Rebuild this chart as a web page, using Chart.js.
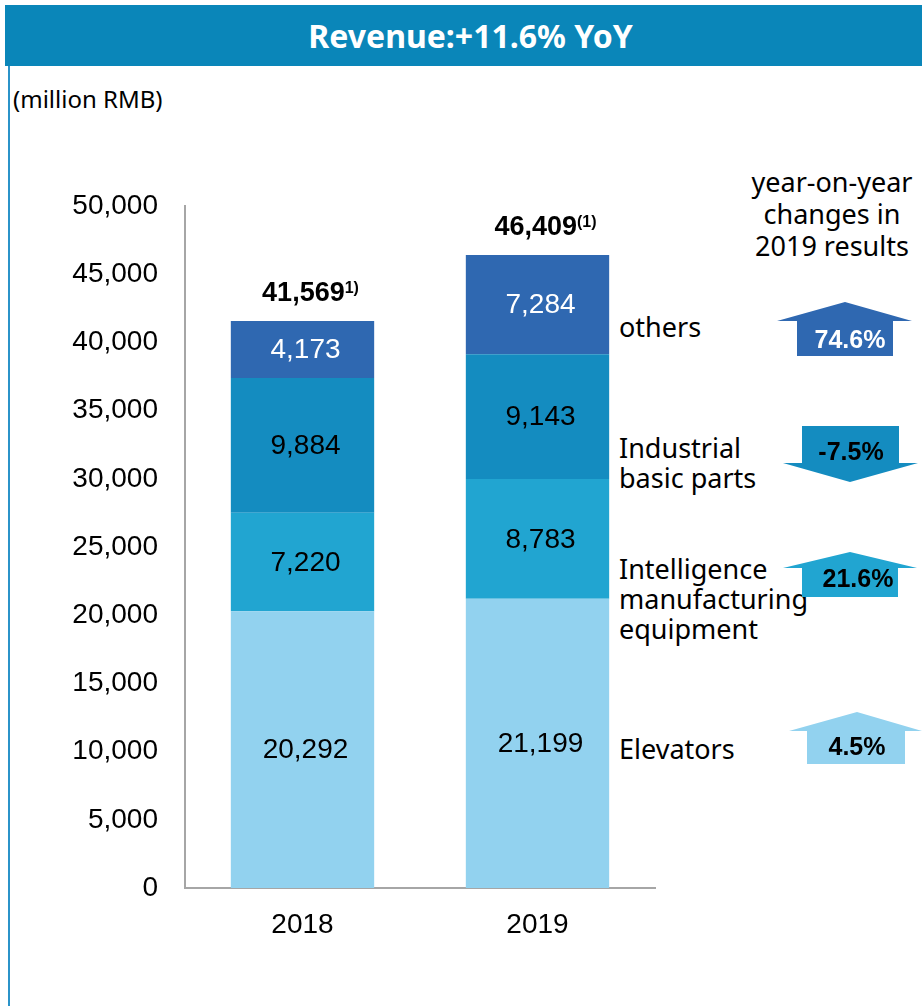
<!DOCTYPE html>
<html>
<head>
<meta charset="utf-8">
<script src="https://cdn.jsdelivr.net/npm/chart.js@4.4.1/dist/chart.umd.min.js"></script>
<style>
  html, body { margin:0; padding:0; background:#fff; }
  #wrap { position:relative; width:922px; height:1006px; overflow:hidden; font-family:"Noto Sans", sans-serif; color:#000; }
  #chart { position:absolute; left:0; top:0; width:922px; height:1006px; }
  .banner { position:absolute; left:5px; top:5px; width:917px; height:61px; box-sizing:border-box; padding-left:14px;
            background:#0a86b9; color:#fff; font-weight:bold; font-size:32px; line-height:61px; text-align:center; }
  .edge { position:absolute; left:8px; top:66px; width:2px; height:940px; background:#2b93c9; }
  .unit { position:absolute; left:13px; top:84px; font-size:24px; line-height:30px; }
  .head { position:absolute; left:742px; top:166px; width:180px; text-align:center; font-size:27px; line-height:32px; }
  .cat { position:absolute; left:619px; font-size:27px; line-height:30px; }
</style>
</head>
<body>
<div id="wrap">
  <div class="banner">Revenue:+11.6% YoY</div>
  <div class="edge"></div>
  <div class="unit">(million RMB)</div>
  <div class="head">year-on-year<br>changes in<br>2019 results</div>
  <div class="cat" style="top:312px">others</div>
  <div class="cat" style="top:433px">Industrial<br>basic parts</div>
  <div class="cat" style="top:554px">Intelligence<br>manufacturing<br>equipment</div>
  <div class="cat" style="top:734px">Elevators</div>
  <canvas id="chart" width="922" height="1006"></canvas>
</div>
<script>
// data, bottom segment first
const categories   = ['2018', '2019'];
const elevators    = [20292, 21199];
const intelligence = [7220, 8783];
const industrial   = [9884, 9143];
const others       = [4173, 7284];
const totals       = [41569, 46409];
const totalNotes   = ['1)', '(1)'];
const yoyChange    = ['4.5%', '21.6%', '-7.5%', '74.6%'];

const colors     = ['#92d2ef', '#21a5d1', '#148cc0', '#2f68b1'];
const textColors = ['#000', '#000', '#000', '#fff'];

// arrow shapes for the yoy column (same order as datasets)
const arrows = [
  { apexX:857, apexY:712, headY:731, headL:789, headR:922, shaftL:807, shaftR:905, endY:764, tx:857, ty:755 },
  { apexX:850, apexY:552, headY:568, headL:783, headR:917, shaftL:802, shaftR:898, endY:597, tx:858, ty:587 },
  { apexX:850, apexY:482, headY:463, headL:783, headR:918, shaftL:802, shaftR:899, endY:426, tx:851, ty:460 },
  { apexX:845, apexY:302, headY:321, headL:777, headR:912, shaftL:797, shaftR:893, endY:356, tx:850, ty:348 }
];

const fmt = v => v.toLocaleString('en-US');

const barLabels = {
  id:'barLabels',
  afterDatasetsDraw(chart){
    const { ctx } = chart;
    ctx.save();
    ctx.textAlign = 'center';
    ctx.textBaseline = 'middle';
    ctx.font = '28px "Liberation Sans", Arial, sans-serif';
    chart.data.datasets.forEach((ds, i) => {
      chart.getDatasetMeta(i).data.forEach((bar, j) => {
        const { x, y, base } = bar.getProps(['x', 'y', 'base'], true);
        ctx.fillStyle = textColors[i];
        ctx.fillText(fmt(ds.data[j]), x + 3, (y + base) / 2 + 1);
      });
    });

    // totals with footnote marks
    const top = chart.getDatasetMeta(chart.data.datasets.length - 1).data;
    ctx.textAlign = 'left';
    ctx.textBaseline = 'alphabetic';
    top.forEach((bar, j) => {
      const { x, y } = bar.getProps(['x', 'y'], true);
      const main = fmt(totals[j]);
      ctx.font = 'bold 27px "Liberation Sans", Arial, sans-serif';
      const w1 = ctx.measureText(main).width;
      ctx.font = 'bold 16px "Liberation Sans", Arial, sans-serif';
      const w2 = ctx.measureText(totalNotes[j]).width;
      const x0 = x + 8 - (w1 + w2) / 2;
      const by = y - 20;
      ctx.fillStyle = '#000';
      ctx.font = 'bold 27px "Liberation Sans", Arial, sans-serif';
      ctx.fillText(main, x0, by);
      ctx.font = 'bold 16px "Liberation Sans", Arial, sans-serif';
      ctx.fillText(totalNotes[j], x0 + w1, by - 8);
    });

    // yoy arrows
    ctx.textAlign = 'center';
    ctx.font = 'bold 25px "Liberation Sans", Arial, sans-serif';
    arrows.forEach((a, i) => {
      ctx.fillStyle = colors[i];
      ctx.beginPath();
      ctx.moveTo(a.apexX, a.apexY);
      ctx.lineTo(a.headR, a.headY);
      ctx.lineTo(a.shaftR, a.headY);
      ctx.lineTo(a.shaftR, a.endY);
      ctx.lineTo(a.shaftL, a.endY);
      ctx.lineTo(a.shaftL, a.headY);
      ctx.lineTo(a.headL, a.headY);
      ctx.closePath();
      ctx.fill();
      ctx.fillStyle = textColors[i];
      ctx.fillText(yoyChange[i], a.tx, a.ty);
    });
    ctx.restore();
  }
};

const tickFont = { family:'"Liberation Sans", Arial, sans-serif', size:28 };

new Chart(document.getElementById('chart'), {
  type:'bar',
  data:{
    labels: categories,
    datasets:[
      { label:'Elevators', data:elevators, backgroundColor:colors[0] },
      { label:'Intelligence manufacturing equipment', data:intelligence, backgroundColor:colors[1] },
      { label:'Industrial basic parts', data:industrial, backgroundColor:colors[2] },
      { label:'others', data:others, backgroundColor:colors[3] }
    ]
  },
  options:{
    responsive:false,
    animation:false,
    devicePixelRatio:1,
    layout:{ padding:{ top:206, right:267, left:0, bottom:0 } },
    datasets:{ bar:{ barPercentage:1, categoryPercentage:0.61 } },
    plugins:{ legend:{ display:false }, tooltip:{ enabled:false } },
    scales:{
      x:{
        stacked:true,
        grid:{ display:false, drawTicks:false },
        border:{ display:true, color:'#a6a6a6', width:2 },
        ticks:{ color:'#000', font:tickFont, padding:20 },
        afterFit(s){ s.height = 118; }
      },
      y:{
        stacked:true, min:0, max:50000,
        grid:{ display:false, drawTicks:false },
        border:{ display:true, color:'#a6a6a6', width:2 },
        ticks:{ stepSize:5000, color:'#000', font:tickFont, padding:27, callback:v => fmt(v) },
        afterFit(s){ s.width = 185; }
      }
    }
  },
  plugins:[barLabels]
});
</script>
</body>
</html>
